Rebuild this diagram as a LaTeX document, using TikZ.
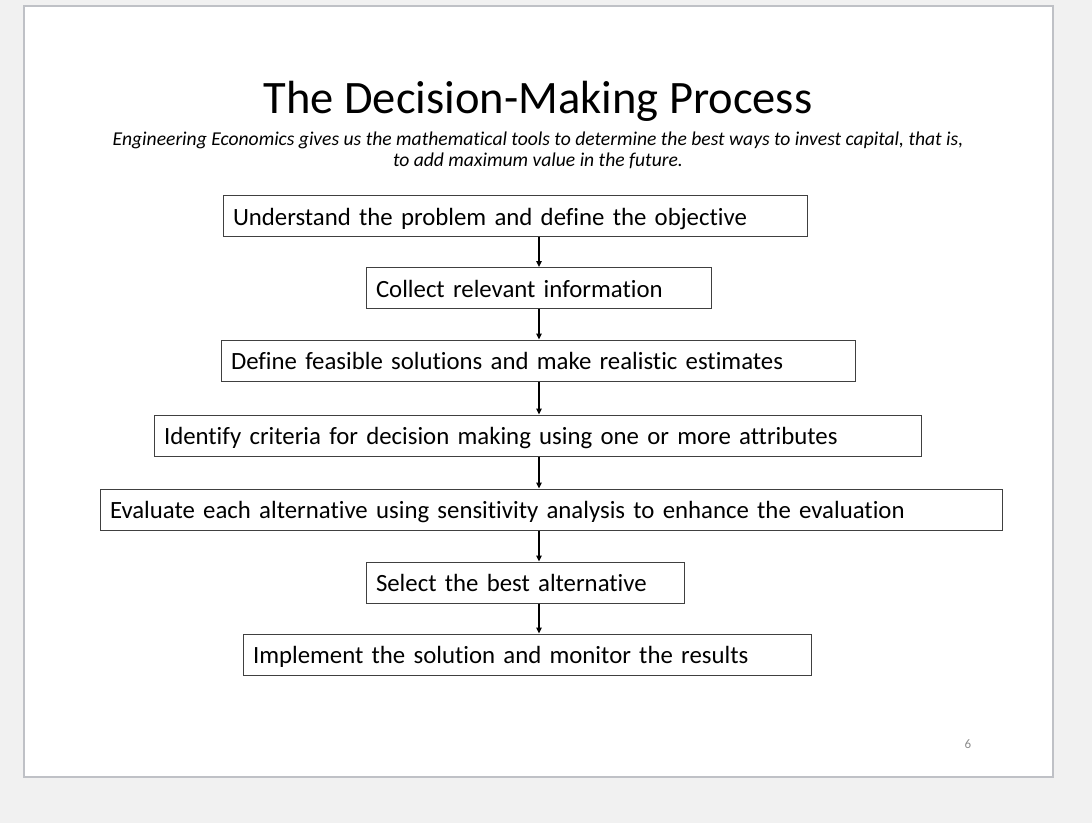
\documentclass[tikz,border=0pt]{standalone}
\usepackage{fontspec}
\setmainfont{Carlito}[Ligatures=NoCommon]
\usetikzlibrary{arrows.meta}
\definecolor{pagebg}{HTML}{F1F1F1}
\definecolor{slideedge}{HTML}{BFC1C6}
\definecolor{boxedge}{HTML}{404040}
\definecolor{pnum}{HTML}{8C8C8C}
\tikzset{
  stepbox/.style={draw=boxedge, line width=1pt, fill=white, inner xsep=10pt, inner ysep=0pt,
    minimum height=41pt, text height=22pt, text depth=4pt, align=left,
    font=\fontsize{24.8}{28}\selectfont, anchor=center},
  arr/.style={line width=1.3pt, -{Triangle[length=6pt,width=5.5pt]}},
}
\begin{document}
\begin{tikzpicture}[x=1pt,y=-1pt]
\fill[pagebg] (0,0) rectangle (1092,823);
\useasboundingbox (0,0) rectangle (1092,823);
\draw[slideedge, line width=2.5pt, fill=white] (24,6) rectangle (1053,777);
\node[anchor=base] (title) at (538,113) {\fontsize{46.5}{52}\selectfont The Decision-Making Process};
\node[align=center, font=\fontsize{19.6}{21}\selectfont\itshape] (sub) at (538,150)
  {Engineering Economics gives us the mathematical tools to determine the best ways to invest capital, that is,\\to add maximum value in the future.};
\node[stepbox, text width=564pt] (n1) at (515,216) {Understand the problem and define the objective};
\node[stepbox, text width=325pt] (n2) at (538.5,288) {Collect relevant information};
\node[stepbox, text width=614pt] (n3) at (538,360.5) {Define feasible solutions and make realistic estimates};
\node[stepbox, text width=747pt] (n4) at (537.5,435.5) {Identify criteria for decision making using one or more attributes};
\node[stepbox, text width=882pt] (n5) at (551,509.5) {Evaluate each alternative using sensitivity analysis to enhance the evaluation};
\node[stepbox, text width=298pt] (n6) at (525,582.5) {Select the best alternative};
\node[stepbox, text width=548pt] (n7) at (527,654.5) {Implement the solution and monitor the results};
\coordinate (ax) at (539,0);
\draw[arr] (n1.south -| ax) -- (n2.north -| ax);
\draw[arr] (n2.south -| ax) -- (n3.north -| ax);
\draw[arr] (n3.south -| ax) -- (n4.north -| ax);
\draw[arr] (n4.south -| ax) -- (n5.north -| ax);
\draw[arr] (n5.south -| ax) -- (n6.north -| ax);
\draw[arr] (n6.south -| ax) -- (n7.north -| ax);
\node[text=pnum, font=\fontsize{13}{15}\selectfont] (page) at (968,744) {6};
\end{tikzpicture}
\end{document}
